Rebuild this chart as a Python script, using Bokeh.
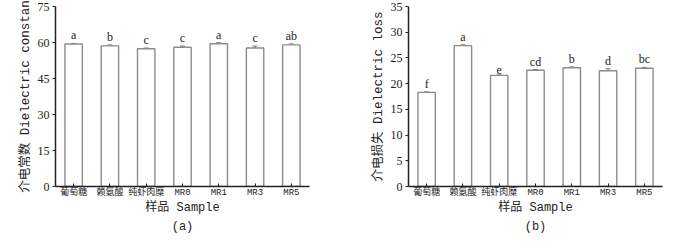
from bokeh.plotting import figure
from bokeh.models import FactorRange, ColumnDataSource, Whisker, FixedTicker, Title
from bokeh.layouts import row
from bokeh.embed import file_html
from bokeh.resources import INLINE
from bokeh.core.properties import value

samples = ["葡萄糖", "赖氨酸", "纯虾肉糜", "MR0", "MR1", "MR3", "MR5"]

const_vals = [59.4, 58.6, 57.4, 58.0, 59.5, 57.7, 59.0]
const_err = [0.2, 0.4, 0.3, 0.5, 0.4, 0.8, 0.4]
const_sig = ["a", "b", "c", "c", "a", "c", "ab"]
const_ticks = [0, 15, 30, 45, 60, 75]

loss_vals = [18.3, 27.4, 21.6, 22.6, 23.1, 22.5, 23.0]
loss_err = [0.1, 0.15, 0.1, 0.15, 0.15, 0.4, 0.15]
loss_sig = ["f", "a", "e", "cd", "b", "d", "bc"]
loss_ticks = [0, 5, 10, 15, 20, 25, 30, 35]

MIXED = "'Liberation Mono', 'Noto Sans CJK SC'"
SERIF = "Liberation Serif"


def make_panel(vals, errs, sig, ticks, ymax, ylabel, caption, bl, br):
    src = ColumnDataSource(dict(
        x=samples, top=vals,
        lo=[v - e for v, e in zip(vals, errs)],
        hi=[v + e for v, e in zip(vals, errs)],
        sig=sig,
    ))
    p = figure(x_range=FactorRange(factors=samples), y_range=(0, ymax),
               width=342, height=233, output_backend="svg", toolbar_location=None,
               min_border_left=bl, min_border_right=br, min_border_top=6,
               min_border_bottom=40)
    p.outline_line_color = None
    p.xgrid.visible = False
    p.ygrid.visible = False
    p.vbar(x="x", top="top", width=0.48, source=src, fill_color="white",
           line_color="#8c8c8c", line_width=1.4)
    w = Whisker(base="x", lower="lo", upper="hi", source=src,
                line_color="#777777", line_width=1)
    w.upper_head.size = 5
    w.lower_head.size = 5
    w.upper_head.line_color = "#777777"
    w.lower_head.line_color = "#777777"
    p.add_layout(w)
    p.text(x="x", y="hi", text="sig", source=src, text_align="center",
           text_baseline="bottom", y_offset=-1, text_font=value(SERIF),
           text_font_size="12px", text_color="#222222")

    for ax in (p.xaxis[0], p.yaxis[0]):
        ax.axis_line_color = "#222222"
        ax.axis_line_width = 1.5
        ax.major_tick_line_color = "#222222"
        ax.major_tick_line_width = 1
        ax.minor_tick_line_color = None
        ax.axis_label_text_font_style = "normal"
        ax.axis_label_text_color = "#222222"
        ax.major_label_text_color = "#222222"

    p.yaxis.ticker = FixedTicker(ticks=ticks)
    p.yaxis.major_tick_in = 0
    p.yaxis.major_tick_out = 3
    p.yaxis.major_label_text_font = SERIF
    p.yaxis.major_label_text_font_size = "12px"
    p.yaxis.major_label_standoff = 3
    p.yaxis.axis_label = ylabel
    p.yaxis.axis_label_text_font = MIXED
    p.yaxis.axis_label_text_font_size = "12.5px"
    p.yaxis.axis_label_standoff = 2

    p.xaxis.major_tick_in = 3
    p.xaxis.major_tick_out = 0
    p.xaxis.major_label_text_font = MIXED
    p.xaxis.major_label_text_font_size = "9px"
    p.xaxis.major_label_standoff = 1
    p.xaxis.axis_label = "样品 Sample"
    p.xaxis.axis_label_text_font = MIXED
    p.xaxis.axis_label_text_font_size = "12px"
    p.xaxis.axis_label_standoff = 0

    t = Title(text=caption, align="center", text_font="Liberation Mono",
              text_font_size="12px", text_font_style="normal",
              text_color="#222222", offset=0, standoff=0)
    p.add_layout(t, "below")
    return p


pa = make_panel(const_vals, const_err, const_sig, const_ticks, 75,
                "介电常数 Dielectric constan", "(a)", 55, 33)
pb = make_panel(loss_vals, loss_err, loss_sig, loss_ticks, 35,
                "介电损失 Dielectric loss", "(b)", 66, 22)

layout = row(pa, pb)
open("out.html", "w").write(file_html(layout, INLINE))
